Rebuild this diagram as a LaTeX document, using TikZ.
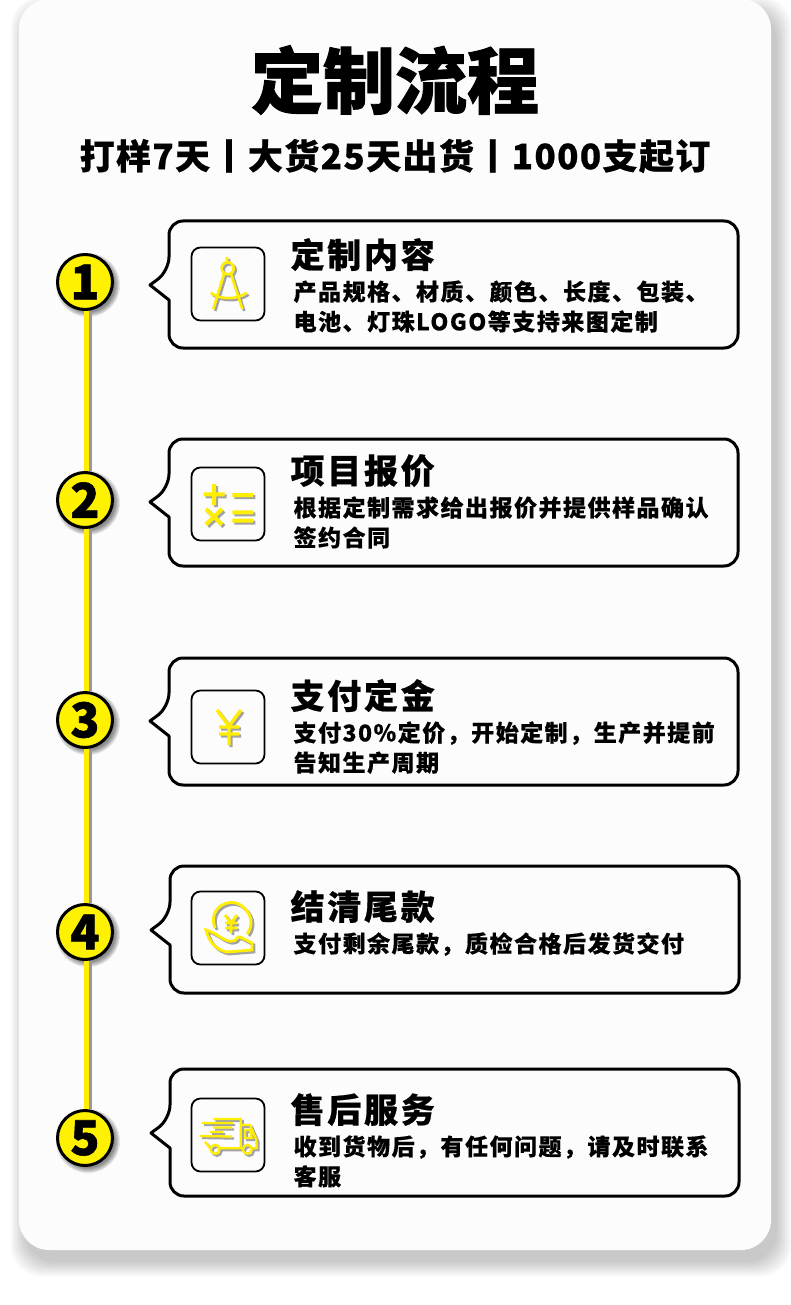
\documentclass[tikz,border=0pt]{standalone}
\usepackage{fontspec}
\usetikzlibrary{positioning}
\newfontfamily\titlefont[BoldFeatures={FakeBold=1.2}]{Noto Sans CJK SC}
\newfontfamily\subfont[BoldFeatures={FakeBold=0.6},LetterSpace=4]{Noto Sans CJK SC}
\newfontfamily\headfont[BoldFeatures={FakeBold=0.6},LetterSpace=8]{Noto Sans CJK SC}
\newfontfamily\bodyfont[BoldFeatures={FakeBold=0.3},LetterSpace=6.5]{Noto Sans CJK SC}
\definecolor{panelfill}{HTML}{FCFCFC}
\definecolor{markyellow}{HTML}{FFF200}
\definecolor{iconyellow}{HTML}{FFEE00}
\newcommand{\iconstroke}[2][2.6pt]{%
  \draw[iconshadow, line width=#1] #2;
  \draw[iconline, line width=#1] #2;
}
\newcommand{\cardpath}[3]{% left, top, tip y
  \draw[cardline] (#1,#3-14) [sharp corners] -- (#1-19,#3) -- (#1,#3+15) [rounded corners=14]
    -- (#1,#2+127) -- (#1+569,#2+127) -- (#1+569,#2) -- (#1,#2) -- cycle;
}
\tikzset{
  x=1pt, y=-1pt,
  cardline/.style={line width=3pt, line join=round, fill=panelfill},
  iconbox/.style={draw, line width=1.8pt, rounded corners=9pt, minimum size=73pt, inner sep=0pt},
  iconline/.style={draw=iconyellow},
  iconshadow/.style={draw=black!45, shift={(2,2)}, opacity=.8},
  stepmark/.style={circle, draw, line width=3pt, fill=markyellow, minimum size=55pt, inner sep=0pt,
    font=\titlefont\bfseries\fontsize{48}{48}\selectfont},
  heading/.style={inner sep=0pt, font=\headfont\bfseries\fontsize{34}{36}\selectfont},
  bodytext/.style={inner sep=0pt, align=left, font=\bodyfont\bfseries\fontsize{23}{30}\selectfont},
  railshadow/.style={black!40, line width=3.5pt},
  rail/.style={iconyellow, line width=4.5pt},
}
\begin{document}
\begin{tikzpicture}
  \useasboundingbox (0,0) rectangle (790,1305);
  \fill[white] (0,0) rectangle (790,1305);

  % panel and its soft shadow
  \foreach \g in {14,12,...,0} {
    \fill[black, opacity=.028, rounded corners=30] (19+6-\g,-1+12-\g) rectangle (771+6+\g,1250+12+\g);
  }
  \fill[panelfill, rounded corners=30] (19,-1) rectangle (771,1250);

  % titles
  \node[inner sep=0pt, font=\titlefont\bfseries\fontsize{72}{72}\selectfont] (title) at (395,80) {定制流程};
  \node[inner sep=0pt, font=\subfont\bfseries\fontsize{35}{36}\selectfont] (subtitle) at (395,156) {打样7天丨大货25天出货丨1000支起订};

  % step marks
  \foreach \g in {6,5,...,1} {
    \fill[black, opacity=.09] (88,285) circle (26+\g);
    \fill[black, opacity=.09] (88,503) circle (26+\g);
    \fill[black, opacity=.09] (88,723) circle (26+\g);
    \fill[black, opacity=.09] (88,935) circle (26+\g);
    \fill[black, opacity=.09] (88,1141) circle (26+\g);
  }
  \node[stepmark] (n1) at (85,282) {1};
  \node[stepmark] (n2) at (85,500) {2};
  \node[stepmark] (n3) at (85,720) {3};
  \node[stepmark] (n4) at (85,932) {4};
  \node[stepmark] (n5) at (85,1138) {5};

  % connecting line
  \draw[railshadow] ([xshift=5pt]n1.south) -- ([xshift=5pt]n2.north);
  \draw[railshadow] ([xshift=5pt]n2.south) -- ([xshift=5pt]n3.north);
  \draw[railshadow] ([xshift=5pt]n3.south) -- ([xshift=5pt]n4.north);
  \draw[railshadow] ([xshift=5pt]n4.south) -- ([xshift=5pt]n5.north);
  \draw[rail] ([xshift=1.3pt]n1.south) -- ([xshift=1.3pt]n2.north);
  \draw[rail] ([xshift=1.3pt]n2.south) -- ([xshift=1.3pt]n3.north);
  \draw[rail] ([xshift=1.3pt]n3.south) -- ([xshift=1.3pt]n4.north);
  \draw[rail] ([xshift=1.3pt]n4.south) -- ([xshift=1.3pt]n5.north);

  % cards
  \cardpath{169}{221}{285}
  \cardpath{169}{439}{502}
  \cardpath{169}{658}{721}
  \cardpath{170}{866}{930}
  \cardpath{170}{1069}{1133}

  % icon boxes
  \node[iconbox] (box1) at (228,284) {};
  \node[iconbox] (box2) at (228,504) {};
  \node[iconbox] (box3) at (228,727) {};
  \node[iconbox] (box4) at (228,928) {};
  \node[iconbox] (box5) at (228,1135) {};

  % texts
  \node[heading, right=25pt of box1.north east, yshift=-8pt] (head1) {定制内容};
  \node[bodytext, below right=9pt and 3pt of head1.south west, anchor=north west] (body1) {产品规格、材质、颜色、长度、包装、\\电池、灯珠LOGO等支持来图定制};
  \node[heading, right=25pt of box2.north east, yshift=-4pt] (head2) {项目报价};
  \node[bodytext, below right=9pt and 3pt of head2.south west, anchor=north west] (body2) {根据定制需求给出报价并提供样品确认\\签约合同};
  \node[heading, right=25pt of box3.north east, yshift=-6pt] (head3) {支付定金};
  \node[bodytext, below right=9pt and 3pt of head3.south west, anchor=north west] (body3) {支付30\%定价，开始定制，生产并提前\\告知生产周期};
  \node[heading, right=25pt of box4.north east, yshift=-16pt] (head4) {结清尾款};
  \node[bodytext, below right=9pt and 3pt of head4.south west, anchor=north west] (body4) {支付剩余尾款，质检合格后发货交付};
  \node[heading, right=25pt of box5.north east, yshift=-12pt] (head5) {售后服务};
  \node[bodytext, below right=9pt and 3pt of head5.south west, anchor=north west] (body5) {收到货物后，有任何问题，请及时联系\\客服};

  % compass
  \iconstroke{(227,257) -- (227,263) (227.7,268.3) circle (6) (224.3,273) -- (213.3,309) (230.7,273) -- (242.3,309)
    (210.7,292.7) .. controls (220,300) and (237,300) .. (246.7,292.7)}

  % calculator signs
  \iconstroke[4pt]{(203.5,494.3) -- (224.5,494.3) (214,484) -- (214,505) (232.3,495) -- (253.3,495)
    (206,509) -- (222,524.5) (222,509) -- (206,524.5) (232.3,512.3) -- (253.3,512.3) (232.3,520.7) -- (253.3,520.7)}

  % yen
  \iconstroke[3.4pt]{(217,710) -- (229,726) -- (241,710) (229,726) -- (229,745) (219,727) -- (239,727) (219,734) -- (239,734)}

  % coin on a hand
  \iconstroke[2.8pt]{(215,928) .. controls (207,906) and (232,896) .. (243,907) .. controls (254,916) and (252,928) .. (247,934)
    (225,915) -- (231,923) -- (237,915) (231,923) -- (231,933) (225,923) -- (237,923) (225,928) -- (237,928)
    (206,930) .. controls (216,932) and (225,943) .. (233,941) .. controls (238,940) and (236,936) .. (240,937)
    -- (252,943) -- (252,950) -- (227,952) .. controls (216,950) and (209,942) .. (206,930) -- cycle}

  % truck
  \iconstroke[2.3pt]{(213.3,1119) -- (240.7,1119) -- (240.7,1148.3) -- (227,1148.3) (241,1125) -- (250,1125) -- (256.5,1140)
    -- (256.5,1148.3) -- (252.5,1148.3) (242,1148.3) -- (220,1148.3)
    (245,1130) -- (250,1130) -- (252,1138) -- (245,1138) -- cycle
    (215,1149.3) circle (4.5) (247.3,1149.3) circle (4.5)
    (202,1123) -- (233,1123) (213,1127.5) -- (232,1127.5) (210,1132) -- (223,1132) (200,1136) -- (232,1136.5)
    (205,1141.7) -- (210,1148)}
\end{tikzpicture}
\end{document}
